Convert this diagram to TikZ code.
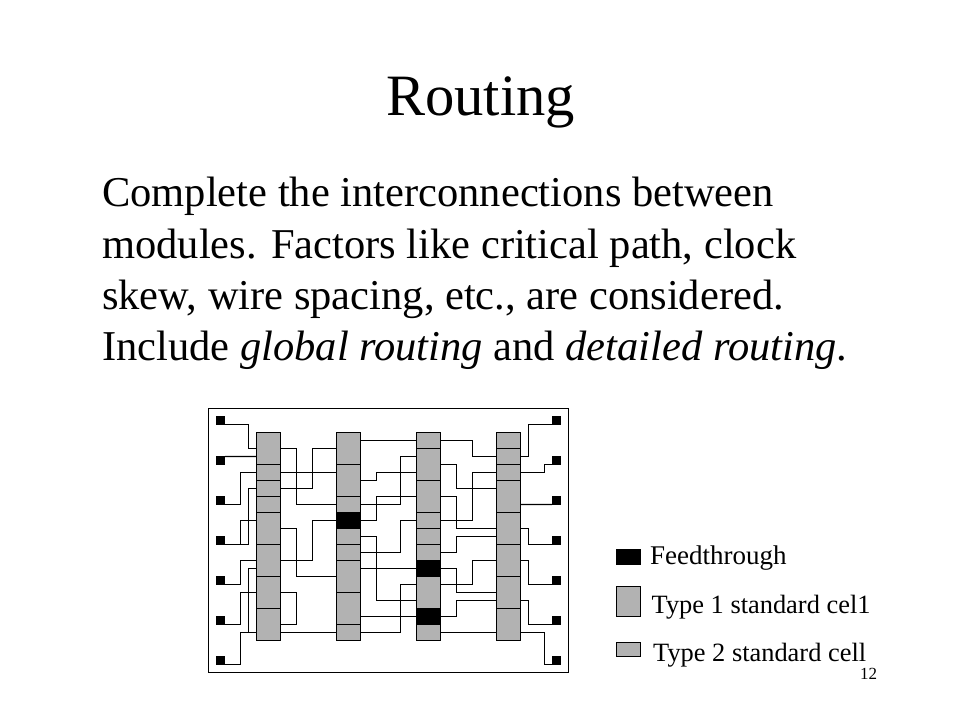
\documentclass[tikz,border=0pt]{standalone}
\usepackage{fontspec}
\setmainfont{Liberation Serif}
\definecolor{cellgray}{RGB}{178,178,178}
\tikzset{
  titletext/.style={anchor=base,inner sep=0pt,font=\fontsize{58.6}{62}\selectfont},
  bodytext/.style={anchor=base west,inner sep=0pt,font=\fontsize{42.5}{46}\selectfont},
  legendtext/.style={anchor=base west,inner sep=0pt,font=\fontsize{26.4}{30}\selectfont},
  cell/.style={draw=black,fill=cellgray,line width=1.2pt},
  feed/.style={draw=black,fill=black,line width=1.2pt},
  pad/.style={fill=black,inner sep=0pt,minimum size=9pt,rectangle},
  wire/.style={draw=black,line width=1.2pt,line join=miter}
}
\begin{document}
\begin{tikzpicture}[x=1pt,y=-1pt]
\useasboundingbox (0,0) rectangle (960,720);
\node[titletext] (title) at (480.5,115.5) {Routing};
\node[bodytext] (line1) at (102,206.5) {Complete the interconnections between};
\node[bodytext] (line2) at (102,258) {modules. Factors like critical path, clock};
\node[bodytext] (line3) at (102,309.5) {skew, wire spacing, etc., are considered.};
\node[bodytext] (line4) at (102,360.5) {Include \textit{global routing} and \textit{detailed routing}.};
\begin{scope}[shift={(0.5,0.5)}]
\draw[line width=1.2pt] (208,408) rectangle (568,672);
% cells of the four columns
\foreach \xa/\ylist in {
  256/{432/464,464/480,480/496,496/512,512/544,544/576,576/608,608/640},
  336/{432/464,464/496,496/512,528/544,544/560,560/592,592/624,624/640},
  416/{432/448,448/480,480/512,512/528,528/544,544/560,576/608,624/640},
  496/{432/448,448/464,464/480,480/512,512/544,544/576,576/608,608/640}}
  \foreach \ya/\yb in \ylist
    \draw[cell] (\xa,\ya) rectangle (\xa+24,\yb);
% feedthroughs
\draw[feed] (336,512) rectangle (360,528);
\draw[feed] (416,560) rectangle (440,576);
\draw[feed] (416,608) rectangle (440,624);
% pads
\foreach \i/\y in {1/420,2/460,3/500,4/540,5/580,6/620,7/660}{
  \node[pad] (pl\i) at (220,\y) {};
  \node[pad] (pr\i) at (556,\y) {};
}
% left pads to column 1
\draw[wire] (pl1.-40) -| (248,448) -- (256,448);
\draw[wire] (pl2.40) -- (256,456);
\draw[wire] (pl3.-40) -| (240,472) -- (256,472);
\draw[wire] (pl4.-40) -| (248,488) -- (256,488);
\draw[wire] (240,544) |- (256,520);
\draw[wire] (pl5.-40) -| (240,560) -- (256,560);
\draw[wire] (pl6.-40) -| (240,592) -- (256,592);
\draw[wire] (pl7.-40) -| (240,632) -- (256,632);
\draw[wire] (256,568) -| (248,632);
% column 1 to column 2
\draw[wire] (280,448) -| (296,504) -- (336,504);
\draw[wire] (280,472) -- (336,472);
\draw[wire] (280,488) -| (312,448) -- (336,448);
\draw[wire] (280,528) -| (296,576) -- (336,576);
\draw[wire] (336,520) -| (312,560) -- (280,560);
\draw[wire] (280,592) -| (296,624) -- (280,624);
\draw[wire] (280,632) -- (336,632);
% column 2 to column 3
\draw[wire] (360,440) -- (416,440);
\draw[wire] (360,480) -| (376,472) -- (416,472);
\draw[wire] (360,504) -| (400,456) -- (416,456);
\draw[wire] (360,520) -| (376,496) -- (416,496);
\draw[wire] (360,536) -| (376,600) -- (416,600);
\draw[wire] (360,552) -| (400,520) -- (416,520);
\draw[wire] (360,568) -- (416,568);
\draw[wire] (360,616) -- (416,616);
\draw[wire] (360,632) -| (400,584) -- (416,584);
% column 3 to column 4
\draw[wire] (440,440) -| (472,456) -- (496,456);
\draw[wire] (440,464) -| (456,488) -- (496,488);
\draw[wire] (440,496) -| (456,528) -- (496,528);
\draw[wire] (440,520) -| (472,472) -- (496,472);
\draw[wire] (440,552) -| (456,536) -- (496,536);
\draw[wire] (440,568) -| (456,592) -- (496,592);
\draw[wire] (440,584) -| (472,560) -- (496,560);
\draw[wire] (440,616) -| (456,600) -- (496,600);
\draw[wire] (440,632) -- (496,632);
% column 4 to right pads
\draw[wire] (pr1.220) -| (528,456) -- (520,456);
\draw[wire] (pr2.220) -| (544,472) -- (520,472);
\draw[wire] (pr3.220) -- (520,504);
\draw[wire] (pr4.220) -| (528,528) -- (520,528);
\draw[wire] (pr5.220) -| (528,560) -- (520,560);
\draw[wire] (pr6.220) -| (528,600) -- (520,600);
\draw[wire] (pr7.220) -| (544,632) -- (520,632);
\end{scope}
% legend
\fill[black] (616,549.3) rectangle (641.3,565.3);
\draw[cell] (616.5,586.3) rectangle (640.8,616.8);
\draw[cell] (616.5,642.2) rectangle (640.8,656.5);
\node[legendtext,font=\fontsize{27}{30}\selectfont] (feedlabel) at (650,564.8) {Feedthrough};
\node[legendtext] (typeone) at (651.5,613) {Type 1 standard cel1};
\node[legendtext] (typetwo) at (653,661) {Type 2 standard cell};
\node[anchor=base west,inner sep=0pt,font=\fontsize{17}{19}\selectfont] (pagenum) at (860,679) {12};
\end{tikzpicture}
\end{document}
